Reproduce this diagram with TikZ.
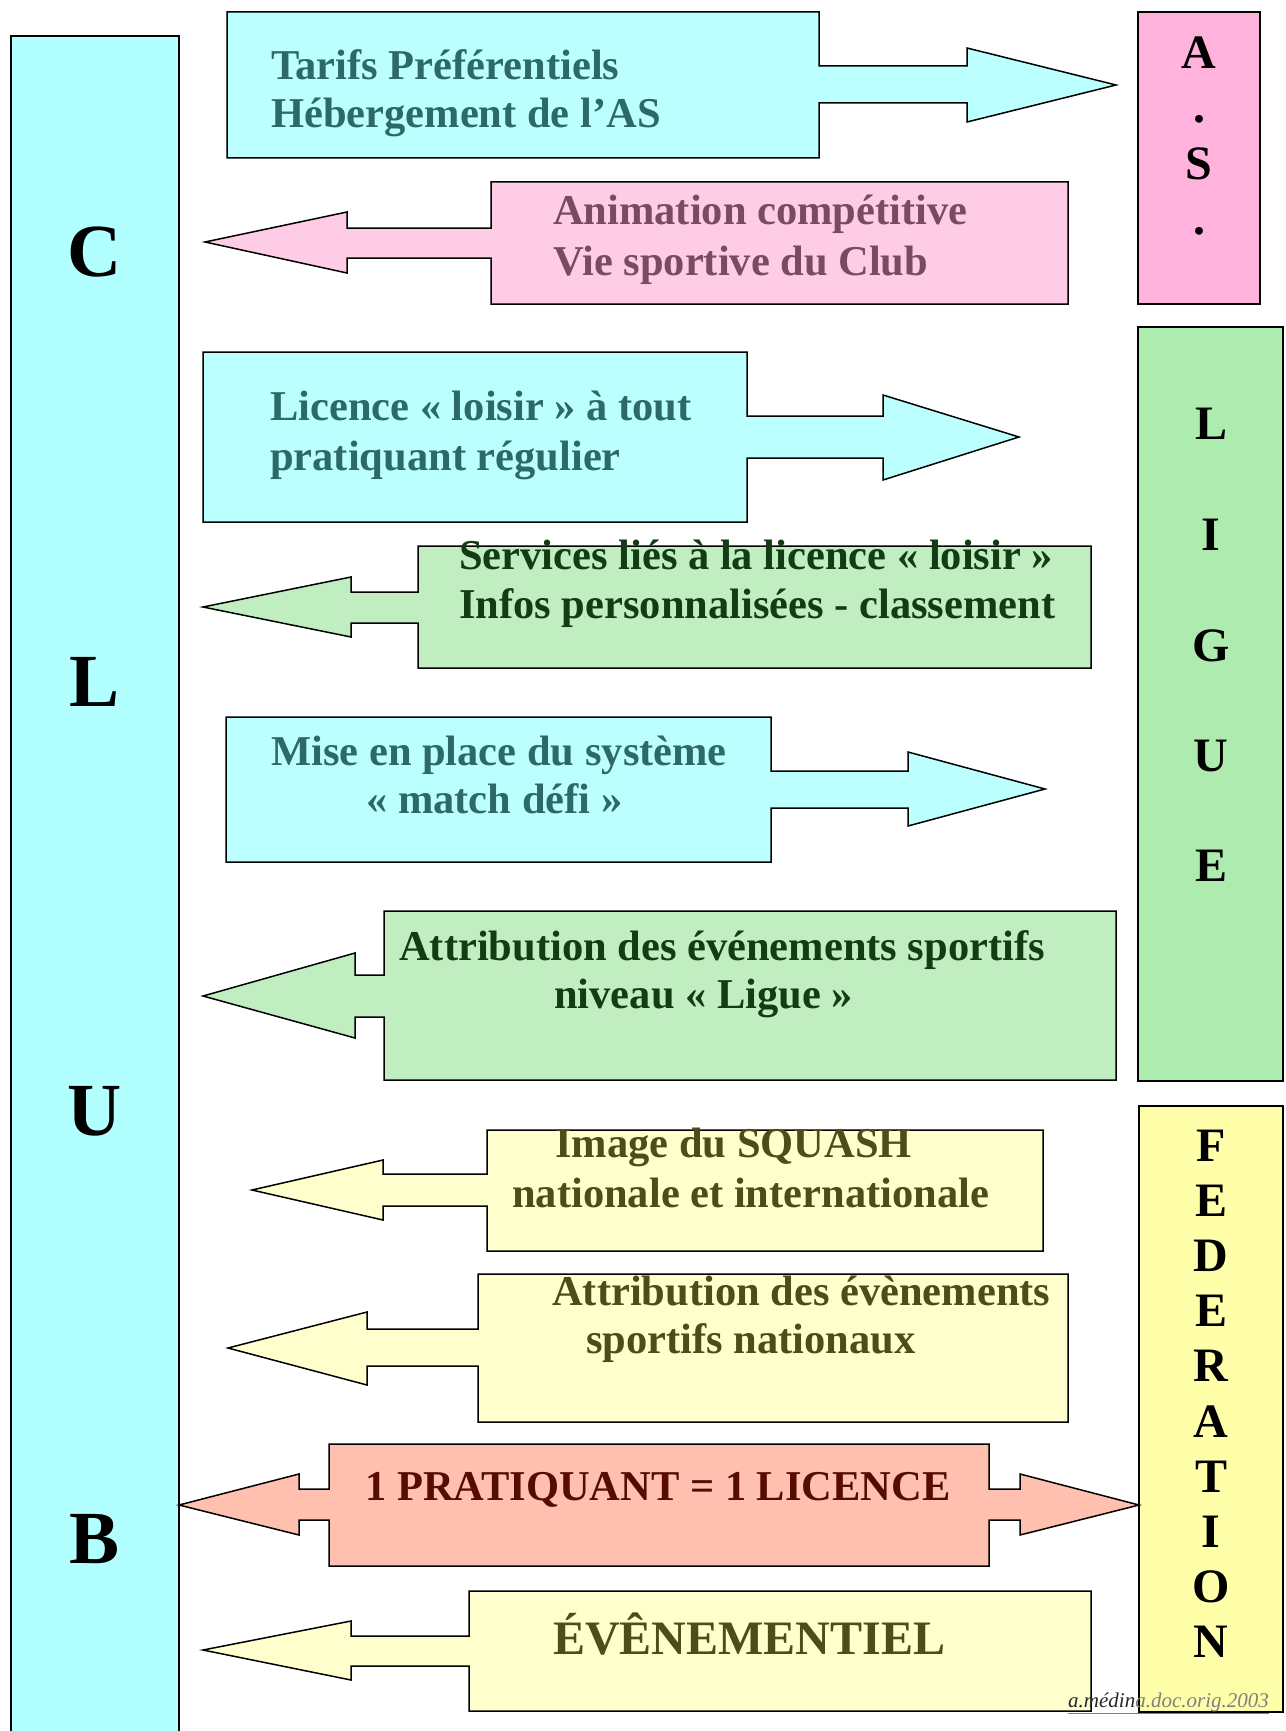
\documentclass[tikz,border=0pt]{standalone}
\usepackage{fontspec}
\setmainfont{Liberation Serif}
\definecolor{clubcyan}{HTML}{B2FFFF}
\definecolor{boxcyan}{HTML}{BBFFFF}
\definecolor{txtcyan}{HTML}{2D6969}
\definecolor{aspink}{HTML}{FFB3DC}
\definecolor{boxpink}{HTML}{FFCCE6}
\definecolor{txtpink}{HTML}{7A4A63}
\definecolor{liggreen}{HTML}{AEEBAE}
\definecolor{boxgreen}{HTML}{C0EEC0}
\definecolor{txtgreen}{HTML}{143C14}
\definecolor{fedyellow}{HTML}{FFFFAA}
\definecolor{boxyellow}{HTML}{FFFFCE}
\definecolor{txtyellow}{HTML}{4D4D1A}
\definecolor{boxsalmon}{HTML}{FFC0B0}
\definecolor{txtsalmon}{HTML}{560C00}
\tikzset{
  shapeline/.style={draw=black, line width=1.5pt, line join=miter},
  txt/.style={anchor=base west, inner sep=0pt, font=\bfseries\fontsize{42.5}{49}\selectfont},
  bigletter/.style={anchor=base, inner sep=0pt, font=\bfseries\fontsize{75}{75}\selectfont},
  sideletter/.style={anchor=base, inner sep=0pt, font=\bfseries\fontsize{48}{48}\selectfont},
  signature/.style={anchor=base west, inner sep=0pt, font=\itshape\fontsize{21}{21}\selectfont}
}
\begin{document}
\begin{tikzpicture}[x=1pt,y=-1pt]
\clip (0,0) rectangle (1285,1731);
\fill[white] (0,0) rectangle (1285,1731);

% ---- columns ----
\draw[shapeline, fill=clubcyan] (11,36) rectangle (179,1760);
\draw[shapeline, fill=aspink] (1138,12) rectangle (1260,304);
\draw[shapeline, fill=liggreen] (1138,327) rectangle (1283,1081);
\draw[shapeline, fill=fedyellow] (1139,1106) rectangle (1283,1712);

% CLUB letters
\node[bigletter] (cC) at (95,276) {C};
\node[bigletter] (cL) at (95,706) {L};
\node[bigletter] (cU) at (95,1135) {U};
\node[bigletter] (cB) at (95,1563) {B};

% A.S.
\node[sideletter] (aA) at (1199,69) {A};
\node[sideletter] (aD1) at (1199,123) {.};
\node[sideletter] (aS) at (1199,180) {S};
\node[sideletter] (aD2) at (1199,234) {.};

% LIGUE
\node[sideletter] (lL) at (1211,439) {L};
\node[sideletter] (lI) at (1211,550) {I};
\node[sideletter] (lG) at (1211,661) {G};
\node[sideletter] (lU) at (1211,771) {U};
\node[sideletter] (lE) at (1211,881) {E};

% FEDERATION
\foreach \ch [count=\k from 0] in {F,E,D,E,R,A,T,I,O,N}{
  \node[sideletter] (f\k) at (1211,{1161+55.2*\k}) {\ch};
}

% ---- callouts ----
% 1 Tarifs (right)
\draw[shapeline, fill=boxcyan] (227,12) -- (819,12) -- (819,66) -- (967,66) -- (967,48) -- (1116,85)
  -- (967,122) -- (967,103) -- (819,103) -- (819,158) -- (227,158) -- cycle;
\node[txt, text=txtcyan] (t1a) at (271,80) {Tarifs Préférentiels};
\node[txt, text=txtcyan] (t1b) at (271,128) {Hébergement de l’AS};

% 2 Animation (left)
\draw[shapeline, fill=boxpink] (491,182) -- (1068,182) -- (1068,304) -- (491,304) -- (491,258)
  -- (347,258) -- (347,273) -- (205,242) -- (347,212) -- (347,228) -- (491,228) -- cycle;
\node[txt, text=txtpink] (t2a) at (553,225) {Animation compétitive};
\node[txt, text=txtpink] (t2b) at (553,275) {Vie sportive du Club};

% 3 Licence (right)
\draw[shapeline, fill=boxcyan] (203,352) -- (747,352) -- (747,416) -- (883,416) -- (883,395) -- (1019,437)
  -- (883,480) -- (883,458) -- (747,458) -- (747,522) -- (203,522) -- cycle;
\node[txt, text=txtcyan] (t3a) at (270,420) {Licence « loisir » à tout};
\node[txt, text=txtcyan] (t3b) at (270,470) {pratiquant régulier};

% 4 Services (left)
\draw[shapeline, fill=boxgreen] (418,546) -- (1091,546) -- (1091,668) -- (418,668) -- (418,623)
  -- (351,623) -- (351,637) -- (203,607) -- (351,577) -- (351,592) -- (418,592) -- cycle;
\node[txt, text=txtgreen] (t4a) at (459,569) {Services liés à la licence « loisir »};
\node[txt, text=txtgreen] (t4b) at (459,618) {Infos personnalisées - classement};

% 5 Mise en place (right)
\draw[shapeline, fill=boxcyan] (226,717) -- (771,717) -- (771,771) -- (908,771) -- (908,752) -- (1045,789)
  -- (908,826) -- (908,808) -- (771,808) -- (771,862) -- (226,862) -- cycle;
\node[txt, text=txtcyan] (t5a) at (271,765) {Mise en place du système};
\node[txt, text=txtcyan] (t5b) at (366,813) {« match défi »};

% 6 Attribution Ligue (left)
\draw[shapeline, fill=boxgreen] (384,911) -- (1116,911) -- (1116,1080) -- (384,1080) -- (384,1017)
  -- (355,1017) -- (355,1038) -- (203,996) -- (355,953) -- (355,975) -- (384,975) -- cycle;
\node[txt, text=txtgreen] (t6a) at (399,960) {Attribution des événements sportifs};
\node[txt, text=txtgreen] (t6b) at (554,1008) {niveau « Ligue »};

% 7 Image du SQUASH (left)
\draw[shapeline, fill=boxyellow] (487,1130) -- (1043,1130) -- (1043,1251) -- (487,1251) -- (487,1206)
  -- (383,1206) -- (383,1220) -- (252,1190) -- (383,1160) -- (383,1174) -- (487,1174) -- cycle;
\node[txt, text=txtyellow] (t7a) at (555,1157) {Image du SQUASH};
\node[txt, text=txtyellow] (t7b) at (512,1207) {nationale et internationale};

% 8 Attribution nationaux (left)
\draw[shapeline, fill=boxyellow] (478,1274) -- (1068,1274) -- (1068,1422) -- (478,1422) -- (478,1366)
  -- (367,1366) -- (367,1385) -- (228,1348) -- (367,1312) -- (367,1329) -- (478,1329) -- cycle;
\node[txt, text=txtyellow] (t8a) at (552,1305) {Attribution des évènements};
\node[txt, text=txtyellow] (t8b) at (586,1353) {sportifs nationaux};

% 9 Pratiquant (double)
\draw[shapeline, fill=boxsalmon] (329,1444) -- (989,1444) -- (989,1489) -- (1020,1489) -- (1020,1474)
  -- (1139,1505) -- (1020,1535) -- (1020,1520) -- (989,1520) -- (989,1566) -- (329,1566) -- (329,1520)
  -- (299,1520) -- (299,1535) -- (179,1505) -- (299,1474) -- (299,1489) -- (329,1489) -- cycle;
\node[txt, text=txtsalmon] (t9) at (365,1500) {1 PRATIQUANT = 1 LICENCE};

% 10 Evenementiel (left)
\draw[shapeline, fill=boxyellow] (469,1591) -- (1091,1591) -- (1091,1711) -- (469,1711) -- (469,1666)
  -- (351,1666) -- (351,1680) -- (203,1650) -- (351,1621) -- (351,1636) -- (469,1636) -- cycle;
\node[txt, text=txtyellow, font=\bfseries\fontsize{48}{48}\selectfont] (t10) at (553,1654) {ÉVÊNEMENTIEL};

% signature
\node[signature, text=gray] (sig) at (1068,1707) {{\color{black!85}a.médin}a.doc.orig.2003};
\draw[gray, line width=1pt] (sig.south west) ++(0,2) -- ([yshift=-2pt]sig.south east);
\end{tikzpicture}
\end{document}
